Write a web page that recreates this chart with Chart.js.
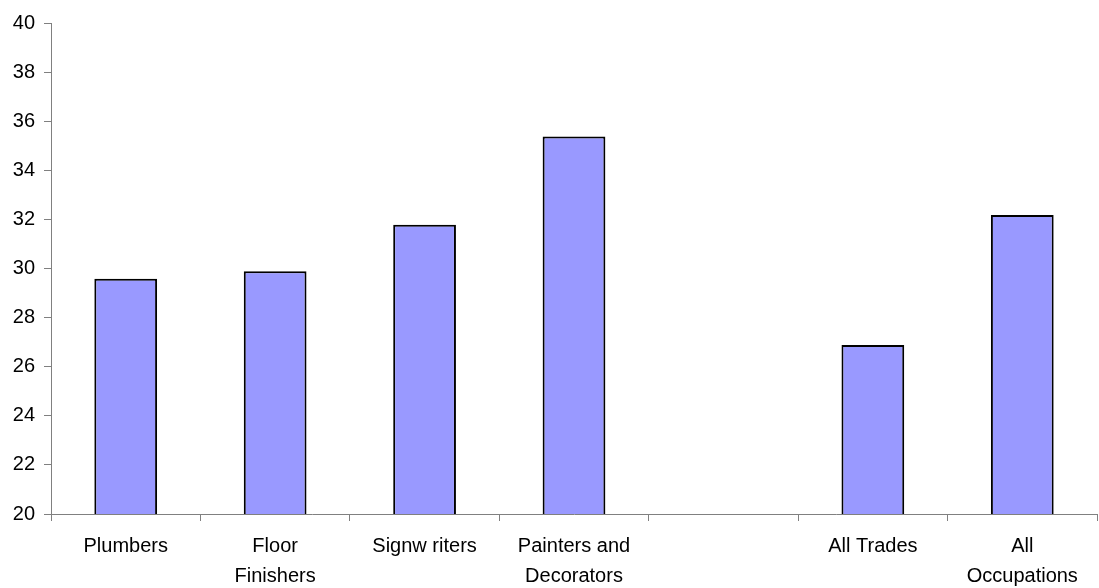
<!DOCTYPE html>
<html>
<head>
<meta charset="utf-8">
<script src="https://cdn.jsdelivr.net/npm/chart.js@4"></script>
<style>
  html, body { margin: 0; padding: 0; background: #fff; }
  #wrap { width: 1099px; height: 588px; }
</style>
</head>
<body>
<div id="wrap"><canvas id="c"></canvas></div>
<script>
// Occupations along the x axis; an empty slot separates trades from the totals
const categories = [
  'Plumbers',
  ['Floor', 'Finishers'],
  'Signw riters',
  ['Painters and', 'Decorators'],
  '',
  'All Trades',
  ['All', 'Occupations']
];
const values = [29.6, 29.9, 31.8, 35.4, null, 26.9, 32.2];
const yTicks = [20, 22, 24, 26, 28, 30, 32, 34, 36, 38, 40];

const axisGrey = '#808080';
const font = { family: '"Liberation Sans", Arial, sans-serif', size: 20, lineHeight: 1.48 };

new Chart(document.getElementById('c'), {
  type: 'bar',
  data: {
    labels: categories,
    datasets: [{
      data: values,
      backgroundColor: '#9999ff',
      borderColor: '#000000',
      borderWidth: 2,
      barPercentage: 0.6,
      categoryPercentage: 0.7
    }]
  },
  options: {
    responsive: true,
    maintainAspectRatio: false,
    animation: false,
    layout: { padding: { top: 20, right: 2, left: 0, bottom: 0 } },
    plugins: { legend: { display: false }, tooltip: { enabled: false } },
    scales: {
      x: {
        grid: {
          display: true,
          drawOnChartArea: false,
          drawTicks: true,
          tickLength: 7,
          color: axisGrey,
          offset: true
        },
        border: { color: axisGrey, width: 1 },
        ticks: { color: '#000', font: font, padding: 11, maxRotation: 0, autoSkip: false },
        afterFit: (s) => { s.height = 74; }
      },
      y: {
        min: 20,
        max: 40,
        afterBuildTicks: (s) => { s.ticks = yTicks.map(v => ({ value: v })); },
        grid: {
          display: true,
          drawOnChartArea: false,
          drawTicks: true,
          tickLength: 7,
          color: axisGrey
        },
        border: { color: axisGrey, width: 1 },
        ticks: { color: '#000', font: font, padding: 9 },
        afterFit: (s) => { s.width = 51; }
      }
    }
  }
});
</script>
</body>
</html>
